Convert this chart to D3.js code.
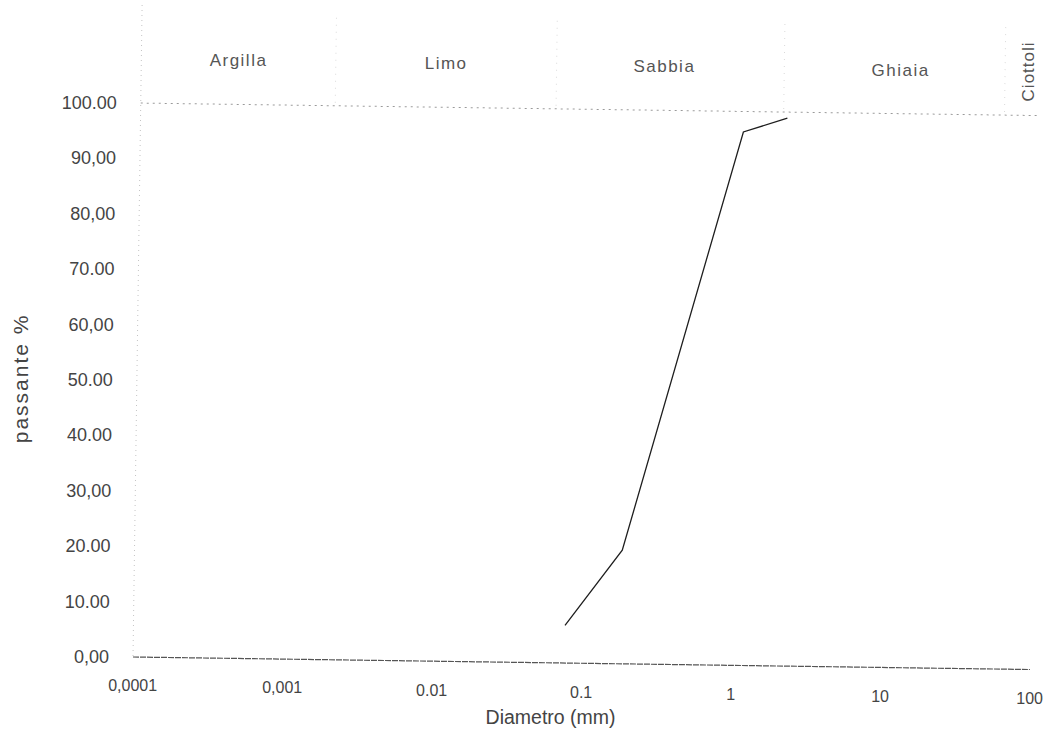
<!DOCTYPE html>
<html>
<head>
<meta charset="utf-8">
<script src="https://cdn.jsdelivr.net/npm/d3@7"></script>
<style>
  body { margin: 0; background: #fff; }
  text { font-family: "Liberation Sans", Arial, sans-serif; fill: #444; }
</style>
</head>
<body>
<svg width="1056" height="741"></svg>
<script>
// grain size curve
const diameters = [0.077, 0.183, 1.08, 2.12];
const passing = [6.8, 20.5, 96.3, 98.9];

const yTicks = [0, 10, 20, 30, 40, 50, 60, 70, 80, 90, 100];
const yTickLabels = ['0,00', '10.00', '20.00', '30,00', '40.00', '50.00', '60,00', '70.00', '80,00', '90,00', '100.00'];
const xTicks = [0.0001, 0.001, 0.01, 0.1, 1, 10, 100];
const xTickLabels = ['0,0001', '0,001', '0.01', '0.1', '1', '10', '100'];

const zoneNames = ['Argilla', 'Limo', 'Sabbia', 'Ghiaia', 'Ciottoli'];
const zoneBounds = [0.0001, 0.002, 0.06, 2, 60, 100];

const svg = d3.select('svg');
const margin = { top: 103, left: 133 };
const innerWidth = 897;
const innerHeight = 554;
const tiltDeg = 0.8; // the scanned sheet is slightly tilted

const x = d3.scaleLog().domain([0.0001, 100]).range([0, innerWidth]);
const y = d3.scaleLinear().domain([0, 100]).range([innerHeight, 0]);

// plot coordinates -> page coordinates (rotation about the axes origin)
const a = tiltDeg * Math.PI / 180;
const tilt = (px, py) => {
  const dy = py - innerHeight;
  return [
    margin.left + px * Math.cos(a) - dy * Math.sin(a),
    margin.top + innerHeight + px * Math.sin(a) + dy * Math.cos(a)
  ];
};

const g = svg.append('g')
  .attr('transform', `translate(${margin.left},${margin.top}) rotate(${tiltDeg}, 0, ${innerHeight})`);

// left border and zone dividers
g.append('line')
  .attr('x1', 0).attr('x2', 0)
  .attr('y1', -98).attr('y2', innerHeight)
  .attr('stroke', '#c4c4c4')
  .attr('stroke-dasharray', '1,4');

g.selectAll('.divider').data(zoneBounds.slice(1, -1))
  .enter().append('line')
    .attr('class', 'divider')
    .attr('x1', d => x(d)).attr('x2', d => x(d))
    .attr('y1', -88).attr('y2', 0)
    .attr('stroke', '#dadada')
    .attr('stroke-dasharray', '1,6');

// 100 % line
g.append('line')
  .attr('x1', 0).attr('x2', x(100))
  .attr('y1', y(100)).attr('y2', y(100))
  .attr('stroke', '#9a9a9a')
  .attr('stroke-dasharray', '2,4');

// 0 % line
g.append('line')
  .attr('x1', 0).attr('x2', x(100))
  .attr('y1', y(0)).attr('y2', y(0))
  .attr('stroke', '#555')
  .attr('stroke-width', 1.2)
  .attr('stroke-dasharray', '6,1');

// curve
const line = d3.line()
  .x(d => x(d[0]))
  .y(d => y(d[1]));

g.append('path')
  .datum(d3.zip(diameters, passing))
  .attr('fill', 'none')
  .attr('stroke', '#1e1e1e')
  .attr('stroke-width', 1.3)
  .attr('d', line);

// texts, placed on the tilted sheet but kept upright
const labels = svg.append('g');

labels.selectAll('.ytick').data(yTicks)
  .enter().append('text')
    .attr('class', 'ytick')
    .attr('x', d => tilt(-24, y(d))[0])
    .attr('y', d => tilt(-24, y(d))[1])
    .attr('dy', '0.35em')
    .attr('text-anchor', 'end')
    .attr('font-size', 18)
    .text((d, i) => yTickLabels[i]);

labels.selectAll('.xtick').data(xTicks)
  .enter().append('text')
    .attr('class', 'xtick')
    .attr('x', d => tilt(x(d), innerHeight + 23)[0])
    .attr('y', d => tilt(x(d), innerHeight + 23)[1])
    .attr('dy', '0.71em')
    .attr('text-anchor', 'middle')
    .attr('font-size', 16)
    .text((d, i) => xTickLabels[i]);

const zoneX = i => x(Math.sqrt(zoneBounds[i] * zoneBounds[i + 1]));

labels.selectAll('.zone').data(zoneNames.slice(0, 4))
  .enter().append('text')
    .attr('class', 'zone')
    .attr('x', (d, i) => tilt(zoneX(i) + (i === 2 ? -6 : i === 3 ? 6 : 0), -38)[0])
    .attr('y', (d, i) => tilt(zoneX(i), -38)[1])
    .attr('text-anchor', 'middle')
    .attr('font-size', 17)
    .attr('letter-spacing', 1.5)
    .style('fill', '#555')
    .text(d => d);

const cPos = tilt(zoneX(4) + 6, -44);
labels.append('text')
  .attr('transform', `translate(${cPos[0]},${cPos[1]}) rotate(-90)`)
  .attr('text-anchor', 'middle')
  .attr('dy', '0.35em')
  .attr('font-size', 17)
  .attr('letter-spacing', 1)
  .style('fill', '#555')
  .text(zoneNames[4]);

const yTitle = tilt(-116, innerHeight / 2);
labels.append('text')
  .attr('transform', `translate(${yTitle[0]},${yTitle[1]}) rotate(-90)`)
  .attr('text-anchor', 'middle')
  .attr('dy', '0.35em')
  .attr('font-size', 21)
  .attr('letter-spacing', 2)
  .text('passante %');

const xTitle = tilt(innerWidth / 2 - 30, innerHeight + 61);
labels.append('text')
  .attr('x', xTitle[0])
  .attr('y', xTitle[1])
  .attr('text-anchor', 'middle')
  .attr('font-size', 19.5)
  .text('Diametro (mm)');
</script>
</body>
</html>
